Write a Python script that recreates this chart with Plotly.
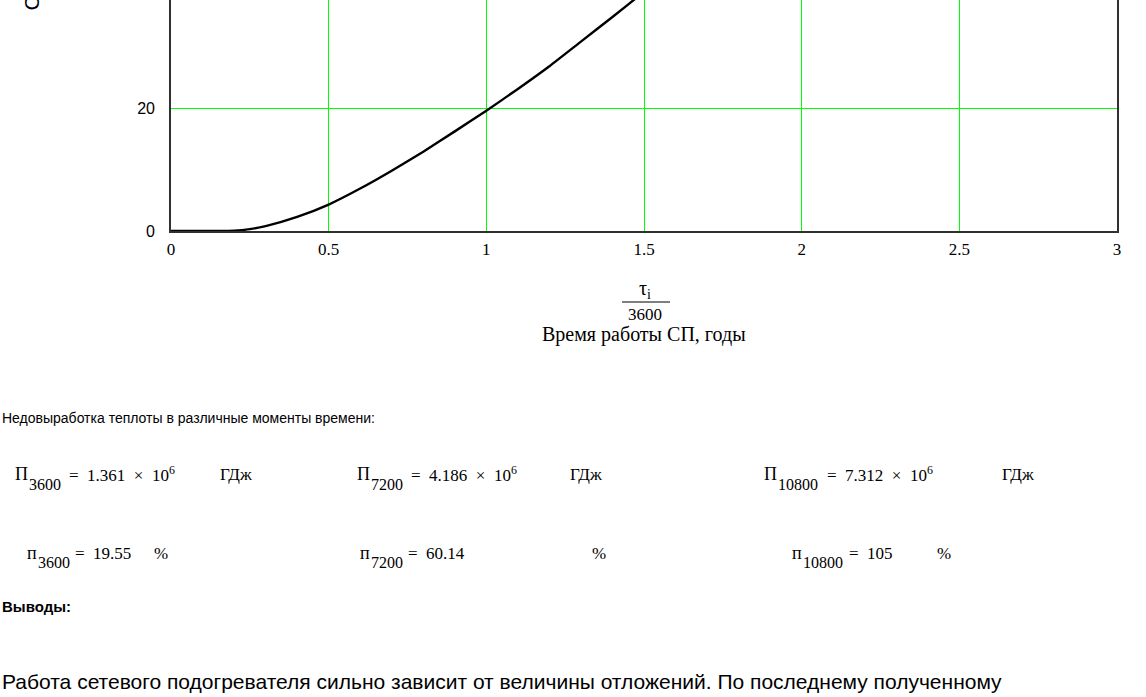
import plotly.graph_objects as go

# Operating time of the network heater, years (tau_i / 3600)
years = [0.0, 0.1, 0.2, 0.25, 0.3, 0.4, 0.5, 0.6, 0.7, 0.8, 0.9, 1.0,
         1.1, 1.2, 1.3, 1.4, 1.5, 1.75, 2.0, 2.25, 2.5, 2.75, 3.0]
# Heat under-production, %
shortfall_pct = [0.0, 0.0, 0.05, 0.3, 0.8, 2.3, 4.3, 6.9, 9.8, 12.9, 16.2, 19.55,
                 23.1, 26.8, 30.8, 34.8, 38.9, 49.3, 60.14, 71.2, 82.5, 93.8, 105.0]

# Summary values at selected moments
moments = ["3600", "7200", "10800"]
shortfall_gj = ["1.361", "4.186", "7.312"]      # x 10^6 GJ
shortfall_rel = ["19.55", "60.14", "105"]       # %

x_ticks = [0, 0.5, 1, 1.5, 2, 2.5, 3]
x_tick_text = ["0", "0.5", "1", "1.5", "2", "2.5", "3"]
y_ticks = [0, 20, 40, 60, 80, 100, 120]

W, H = 1146, 697
PL, PR, PT, PB = 171, 1117, 0, 231


def px(x):
    return (x - PL) / (PR - PL)


def py(y):
    return (PB - y) / (PB - PT)


SERIF = "Liberation Serif"
SANS = "Liberation Sans"
GREEN = "#00ff00"
SP = "\u2002"

fig = go.Figure()
fig.add_trace(go.Scatter(
    x=years, y=shortfall_pct, mode="lines",
    line=dict(color="black", width=2.4, shape="spline", smoothing=0.5),
    hoverinfo="skip", showlegend=False,
))

fig.update_layout(
    width=W, height=H,
    margin=dict(l=PL, r=W - PR, t=PT, b=H - PB, pad=0),
    paper_bgcolor="white", plot_bgcolor="white",
    xaxis=dict(
        range=[0, 3], tickvals=x_ticks, ticktext=x_tick_text,
        showgrid=True, gridcolor=GREEN, gridwidth=1.3, zeroline=False,
        showline=True, linecolor="#303030", linewidth=1.6,
        ticks="", tickfont=dict(family=SERIF, size=17, color="black"),
        ticklabelstandoff=2,
    ),
    yaxis=dict(
        range=[0, 37.56], tickvals=y_ticks,
        showgrid=True, gridcolor=GREEN, gridwidth=1.3, zeroline=False,
        showline=True, mirror=True, linecolor="#303030", linewidth=1.6,
        ticks="", tickfont=dict(family=SANS, size=16, color="black"),
        ticklabelstandoff=11,
    ),
)

ann = []


def text(x, y, s, family=SERIF, size=17, xanchor="left", yanchor="middle", **kw):
    ann.append(dict(x=px(x), y=py(y), xref="paper", yref="paper", text=s,
                    showarrow=False, xanchor=xanchor, yanchor=yanchor,
                    font=dict(family=family, size=size, color="black"), **kw))


# Axis titles
text(645, 289, "τ<sub>i</sub>", size=20, xanchor="center")
text(645, 314, "3600", size=17, xanchor="center")
text(644, 334, "Время работы СП, годы", size=20, xanchor="center")
text(31, 13, "Снижение теплопроизводительности, %", xanchor="center",
     yanchor="bottom", textangle=-90, size=21, family=SANS)

fig.add_shape(type="line", xref="paper", yref="paper",
              x0=px(622), x1=px(670), y0=py(302), y1=py(302),
              line=dict(color="black", width=1.2))

# Notes below the chart
text(0, 418, "Недовыработка теплоты в различные моменты времени:", family=SANS, size=14)

# Absolute heat shortfall, 10^6 GJ
p_x = [13, 355, 762]
unit_x = [218, 568, 1000]
for i in range(3):
    text(p_x[i], 474, "П", size=18)
    text(p_x[i] + 14, 484, moments[i], size=16)
    off = 54 if len(moments[i]) == 4 else 63
    text(p_x[i] + off, 474,
         f"={SP}{shortfall_gj[i]}{SP}×{SP}10<sup>6</sup>", size=17)
    text(unit_x[i], 474, "ГДж", size=17)

# Relative heat shortfall, %
r_x = [25, 358, 790]
pct_x = [152, 590, 935]
for i in range(3):
    text(r_x[i], 553, "п", size=18)
    text(r_x[i] + 11, 563, moments[i], size=16)
    off = 48 if len(moments[i]) == 4 else 57
    text(r_x[i] + off, 553, f"={SP}{shortfall_rel[i]}", size=17)
    text(pct_x[i], 553, "%", size=17)

text(0, 606, "<b>Выводы:</b>", family=SANS, size=15)
text(0, 681, "Работа сетевого подогревателя сильно зависит от величины отложений. "
     "По последнему полученному", family=SANS, size=21)

fig.update_layout(annotations=ann)
fig.write_html("out.html")
